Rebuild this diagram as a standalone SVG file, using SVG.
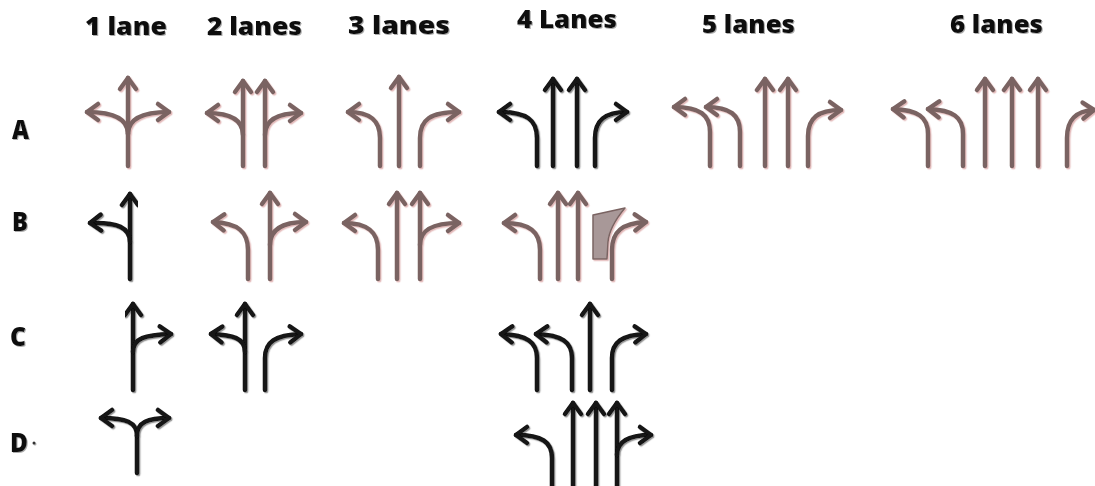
<svg xmlns="http://www.w3.org/2000/svg" width="1095" height="486" viewBox="0 0 1095 486">
<defs>
<style>
.hd{font-family:"Open Sans","Liberation Sans",sans-serif;font-weight:800;font-size:25px;fill:#111111}
.rl{font-family:"Open Sans","Liberation Sans",sans-serif;font-weight:800;font-size:26px;fill:#111111}
.br path.a{fill:none;stroke:#7a6462;stroke-width:4.5;stroke-linecap:round;stroke-linejoin:round;marker-end:url(#mb)}
.bk path.a{fill:none;stroke:#121212;stroke-width:4.5;stroke-linecap:round;stroke-linejoin:round;marker-end:url(#mk)}
.br{filter:url(#hp)}
.bk{filter:url(#hg)}
</style>
<marker id="mb" markerUnits="userSpaceOnUse" markerWidth="30" markerHeight="30" refX="0" refY="0" orient="auto" overflow="visible">
<path d="M-11,-8 L0,0 L-11,8" fill="none" stroke="#7a6462" stroke-width="4.5" stroke-linecap="round" stroke-linejoin="round"/>
</marker>
<marker id="mk" markerUnits="userSpaceOnUse" markerWidth="30" markerHeight="30" refX="0" refY="0" orient="auto" overflow="visible">
<path d="M-11,-8 L0,0 L-11,8" fill="none" stroke="#121212" stroke-width="4.5" stroke-linecap="round" stroke-linejoin="round"/>
</marker>
<filter id="hp" x="-20%" y="-20%" width="140%" height="140%">
<feDropShadow dx="1.3" dy="1.3" stdDeviation="0.7" flood-color="#e4bcbc" flood-opacity="1"/>
</filter>
<filter id="hg" x="-20%" y="-20%" width="140%" height="140%">
<feDropShadow dx="1.2" dy="1.2" stdDeviation="0.7" flood-color="#8e8e8e" flood-opacity="0.9"/>
</filter>
<filter id="ts" x="-10%" y="-20%" width="120%" height="150%">
<feDropShadow dx="1" dy="1" stdDeviation="0.6" flood-color="#777" flood-opacity="0.6"/>
</filter>
</defs>
<rect width="1095" height="486" fill="#ffffff"/>

<g id="headers" filter="url(#ts)">
<text class="hd" x="85" y="35" textLength="82" lengthAdjust="spacingAndGlyphs">1 lane</text>
<text class="hd" x="207" y="35" textLength="95" lengthAdjust="spacingAndGlyphs">2 lanes</text>
<text class="hd" x="348" y="34" textLength="102" lengthAdjust="spacingAndGlyphs">3 lanes</text>
<text class="hd" x="517" y="28" textLength="100" lengthAdjust="spacingAndGlyphs">4 Lanes</text>
<text class="hd" x="702" y="33" textLength="93" lengthAdjust="spacingAndGlyphs">5 lanes</text>
<text class="hd" x="950" y="33" textLength="93" lengthAdjust="spacingAndGlyphs">6 lanes</text>
</g>

<g id="rowlabels" filter="url(#ts)">
<text class="rl" x="12" y="139" textLength="17" lengthAdjust="spacingAndGlyphs">A</text>
<text class="rl" x="12" y="231" textLength="16" lengthAdjust="spacingAndGlyphs">B</text>
<text class="rl" x="10" y="346" textLength="16" lengthAdjust="spacingAndGlyphs">C</text>
<text class="rl" x="10" y="452" textLength="18" lengthAdjust="spacingAndGlyphs">D</text>
<circle cx="34" cy="443" r="1.5" fill="#333"/>
</g>

<g id="connectors">
<!-- Row A -->
<g id="A1" class="br">
<path class="a" d="M128,166 L128,78"/>
<path class="a" d="M128,134 C128,118 112,112 87,112"/>
<path class="a" d="M128,134 C128,118 144,112 169,112"/>
</g>
<g id="A2" class="br">
<path class="a" d="M243,166 L243,81"/>
<path class="a" d="M243,135 C243,119 228,113 207,113"/>
<path class="a" d="M265,166 L265,81"/>
<path class="a" d="M265,135 C265,119 280,113 301,113"/>
</g>
<g id="A3" class="br">
<path class="a" d="M380,166 L380,138 C380,120 370,112 348,112"/>
<path class="a" d="M399,166 L399,77"/>
<path class="a" d="M420,166 L420,138 C420,120 430,112 459,112"/>
</g>
<g id="A4" class="bk">
<path class="a" d="M537,166 L537,138 C537,120 527,112 499,112"/>
<path class="a" d="M553,166 L553,79"/>
<path class="a" d="M577,166 L577,79"/>
<path class="a" d="M595,166 L595,138 C595,120 605,112 627,112"/>
</g>
<g id="A5" class="br">
<path class="a" d="M710,166 L710,132 C710,115 700,107 674,107"/>
<path class="a" d="M740,166 L740,132 C740,115 730,107 706,107"/>
<path class="a" d="M765,166 L765,79"/>
<path class="a" d="M788,166 L788,79"/>
<path class="a" d="M808,166 L808,136 C808,118 818,110 841,110"/>
</g>
<g id="A6" class="br">
<path class="a" d="M928,166 L928,134 C928,117 918,110 893,109"/>
<path class="a" d="M963,166 L963,134 C963,117 953,110 928,109"/>
<path class="a" d="M985,166 L985,79"/>
<path class="a" d="M1012,166 L1012,79"/>
<path class="a" d="M1038,166 L1038,79"/>
<path class="a" d="M1067,166 L1067,138 C1067,120 1075,111 1094,110"/>
</g>

<!-- Row B -->
<g id="B1" class="bk">
<path class="a" d="M130,279 L130,194"/>
<path class="a" d="M130,242 C130,228 118,222 90,223"/>
</g>
<g id="B2" class="br">
<path class="a" d="M248,279 L248,250 C248,232 238,223 213,222"/>
<path class="a" d="M270,279 L270,193"/>
<path class="a" d="M270,245 C270,230 282,222 306,222"/>
</g>
<g id="B3" class="br">
<path class="a" d="M378,279 L378,250 C378,232 368,223 344,223"/>
<path class="a" d="M397,279 L397,193"/>
<path class="a" d="M420,279 L420,193"/>
<path class="a" d="M420,245 C420,230 432,223 459,223"/>
</g>
<g id="B4" class="br">
<path class="a" d="M540,279 L540,250 C540,232 530,223 504,223"/>
<path class="a" d="M558,279 L558,193"/>
<path class="a" d="M578,279 L578,193"/>
<path d="M593,215 L625,208 C615,220 609,230 608,242 L607,259 L593,259 Z" fill="#a89898" stroke="#7a6462" stroke-width="1.5" stroke-linejoin="round"/>
<path class="a" d="M612,279 L612,250 C612,232 622,223 646,222"/>
</g>

<!-- Row C -->
<g id="C1" class="bk">
<path class="a" d="M133,390 L133,304"/>
<path class="a" d="M133,352 C133,338 145,335 171,334"/>
</g>
<g id="C2" class="bk">
<path class="a" d="M245,390 L245,304"/>
<path class="a" d="M245,352 C245,338 233,335 211,334"/>
<path class="a" d="M265,390 L265,358 C265,342 275,335 301,334"/>
</g>
<g id="C4" class="bk">
<path class="a" d="M537,390 L537,358 C537,342 527,335 501,334"/>
<path class="a" d="M572,390 L572,358 C572,342 562,335 536,334"/>
<path class="a" d="M590,390 L590,304"/>
<path class="a" d="M612,390 L612,358 C612,342 622,335 646,334"/>
</g>

<!-- Row D -->
<g id="D1" class="bk">
<path d="M137,473 L137,436" fill="none" stroke="#121212" stroke-width="4.5" stroke-linecap="round"/>
<path class="a" d="M137,436 C137,422 126,418 101,418"/>
<path class="a" d="M137,436 C137,422 148,418 169,418"/>
</g>
<g id="D4" class="bk">
<path class="a" d="M552,490 L552,458 C552,442 542,435 516,435"/>
<path class="a" d="M573,490 L573,403"/>
<path class="a" d="M596,490 L596,403"/>
<path class="a" d="M617,490 L617,403"/>
<path class="a" d="M617,455 C617,442 628,435 651,435"/>
</g>
</g>
</svg>
